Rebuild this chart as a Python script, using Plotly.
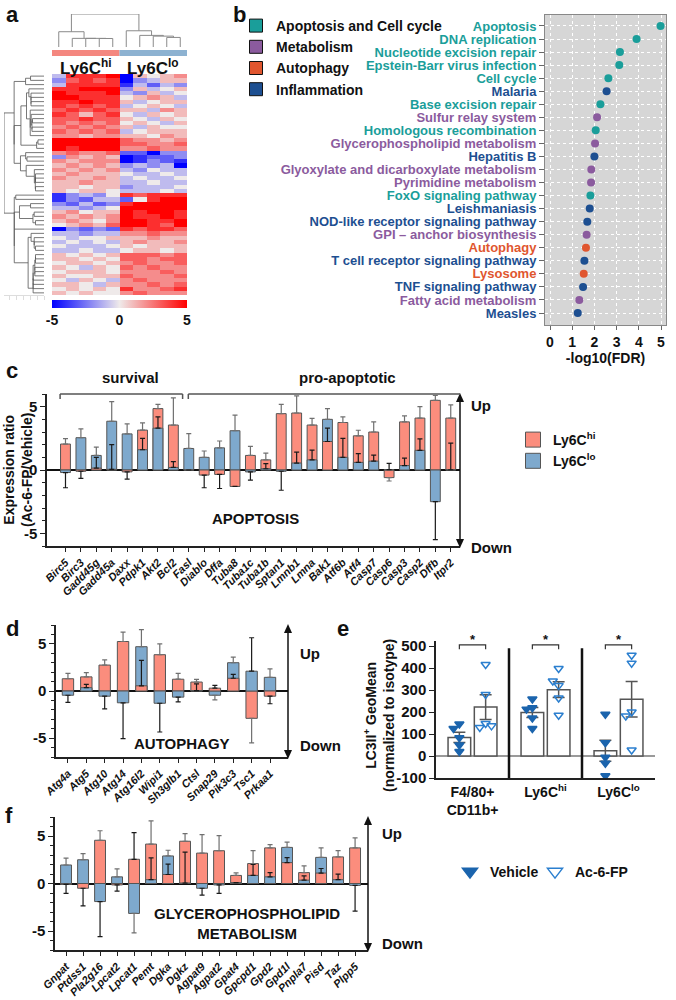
import numpy as np
import plotly.graph_objects as go

W, H = 676, 1000
FONT = "Liberation Sans, Arial, sans-serif"
INK = "#111111"
PINK = "#fb8d7d"
BLUE = "#7ea9cd"
EDGE = "#555555"

# ---- a: expression heatmap (rows top to bottom; 5 Ly6Chi then 5 Ly6Clo samples)
HEAT_GROUPS = ["Ly6C<sup>hi</sup>", "Ly6C<sup>lo</sup>"]
HEAT_GROUP_SIZE = [5, 5]
HEAT_ROWS = [
    [-1, 4, 4, 4, 5, -5, 1, 0, 1, 2],
    [-2, 3, 4, 3, 4, -5, -2, -1, 1, 1],
    [-1, 4, 4, 4, 4, -4, -1, -3, -1, -2],
    [4, 4, 5, 5, 5, -2, 1, -1, 0, 1],
    [5, 4, 4, 4, 5, -1, -2, 1, -1, 0],
    [5, 5, 4, 4, 4, 0, 1, 2, 1, -1],
    [4, 4, 5, 4, 4, 1, -1, 0, 1, 1],
    [4, 3, 4, 3, 4, -1, 0, 1, 0, -1],
    [3, 4, 3, 4, 3, 1, 1, -1, 2, 1],
    [4, 3, 1, 3, 4, 0, -1, 1, 0, 1],
    [3, 3, 4, 3, 3, 1, 0, -1, 1, 0],
    [3, 2, 3, 2, 3, 0, 1, 0, -1, 1],
    [2, 3, 2, 3, 2, 1, -1, 1, 0, 0],
    [3, 2, 3, 2, 3, -1, 0, 1, 1, 1],
    [2, 2, 1, 2, 2, 1, 1, 0, 2, 1],
    [5, 5, 5, 5, 5, 3, 2, 2, 1, 2],
    [5, 5, 5, 5, 5, 3, 3, 2, 2, 3],
    [5, 4, 5, 5, 5, 2, 2, 3, 2, 2],
    [2, 3, 2, 2, 3, -3, -3, -5, -2, -2],
    [-2, 2, 1, 2, 1, -5, -4, -3, -3, -2],
    [2, 1, 2, 2, 2, -5, -4, -2, -3, -4],
    [1, 2, 1, 2, 1, -2, -1, -2, -1, -5],
    [2, 1, 2, 1, 2, -1, -2, 0, -1, -1],
    [1, 2, 1, 1, 1, 0, -1, -1, 0, -1],
    [2, 1, 1, 2, 1, -1, 0, -1, -1, 0],
    [1, 1, 2, 1, 1, -1, -1, 0, -1, -1],
    [1, 1, 0, 1, 1, -2, -1, -1, -1, 0],
    [1, 0, 1, 1, 0, -1, -1, -1, 0, -1],
    [-4, -2, -1, -2, 0, 4, 3, 4, 4, 4],
    [-4, -2, -3, -1, -1, -3, 0, 4, 5, 5],
    [-2, -3, -1, -3, -2, 4, 5, 5, 5, 5],
    [-1, -1, -2, -1, 0, 5, 5, 5, 5, 5],
    [1, 2, 0, 1, 1, 5, 4, 5, 5, 4],
    [2, 1, 2, 1, 2, 5, 4, 4, 5, 4],
    [1, 2, 1, 0, 2, 5, 5, 4, 4, 5],
    [0, 1, 2, 1, 3, 5, 5, 4, 3, 5],
    [-5, -2, -3, -2, -3, 4, 3, 4, 4, 3],
    [-1, -1, -2, -1, -1, 2, 2, 3, 2, 2],
    [0, -1, 0, 0, 1, 1, 1, 2, 1, 1],
    [-1, 0, -1, 0, -1, 1, 2, 1, 1, 2],
    [0, -1, -1, -1, 0, 1, 0, 1, 1, 1],
    [-1, -1, 0, -1, -1, 0, 1, 1, 0, 1],
    [1, 0, 1, 0, 1, 3, 3, 3, 2, 3],
    [1, 1, 0, 1, 0, 3, 3, 2, 3, 3],
    [0, 1, 1, 0, 1, 2, 3, 2, 2, 3],
    [1, 0, -1, 1, 0, 3, 2, 3, 2, 2],
    [0, 1, 1, 1, 0, 2, 2, 2, 3, 2],
    [1, 0, 0, 1, 1, 3, 2, 2, 2, 3],
    [0, -1, 1, 0, -1, 2, 3, 2, 2, 2],
    [1, 1, 0, -1, 1, 2, 2, 3, 2, 3],
    [0, 1, 0, 1, 0, 4, 2, 2, 3, 4],
    [1, 0, 1, 0, 0, 2, 3, 2, 2, 2],
]

# ---- b: KEGG enrichment
PATHWAYS = [
    "Apoptosis", "DNA replication", "Nucleotide excision repair",
    "Epstein-Barr virus infection", "Cell cycle", "Malaria", "Base excision repair",
    "Sulfur relay system", "Homologous recombination", "Glycerophospholipid metabolism",
    "Hepatitis B", "Glyoxylate and dicarboxylate metabolism", "Pyrimidine metabolism",
    "FoxO signaling pathway", "Leishmaniasis", "NOD-like receptor signaling pathway",
    "GPI – anchor biosynthesis", "Autophagy", "T cell receptor signaling pathway",
    "Lysosome", "TNF signaling pathway", "Fatty acid metabolism", "Measles",
]
PATHWAY_CLASS = ["apo", "apo", "apo", "apo", "apo", "inf", "apo", "met", "apo", "met", "inf", "met",
                 "met", "apo", "inf", "inf", "met", "aut", "inf", "aut", "inf", "met", "inf"]
NEG_LOG_FDR = [4.98, 3.9, 3.15, 3.12, 2.63, 2.55, 2.27, 2.12, 2.06, 2.03, 2.0, 1.86,
               1.85, 1.82, 1.79, 1.68, 1.65, 1.62, 1.55, 1.52, 1.49, 1.32, 1.25]
CLASS_NAMES = {"apo": "Apoptosis and Cell cycle", "met": "Metabolism",
               "aut": "Autophagy", "inf": "Inflammation"}
CLASS_COLORS = {"apo": "#1a9e9a", "met": "#8b5b9e", "aut": "#e0562f", "inf": "#1d4f91"}

# ---- c: apoptosis genes, expression ratio (mean, error)
APOP_GENES = ["Birc5", "Birc3", "Gadd45g", "Gadd45a", "Daxx", "Pdpk1", "Akt2", "Bcl2", "Fasl",
              "Diablo", "Dffa", "Tuba8", "Tuba1c", "Tuba1b", "Sptan1", "Lmnb1", "Lmna", "Bak1",
              "Atf6b", "Atf4", "Casp7", "Casp6", "Casp3", "Casp2", "Dffb", "Itpr2"]
APOP_HI = [2.05, -0.1, 0.15, 0.05, -0.15, 3.15, 4.85, 3.55, 0.0, -0.4, -0.35, -1.3, 1.15,
           0.8, 4.45, 4.5, 3.55, 2.25, 3.75, 2.7, 3.0, -0.6, 3.8, 4.1, 5.5, 4.1]
APOP_HI_ERR = [0.42, 0.56, 0.85, 1.95, 0.57, 0.57, 0.33, 2.15, 0.0, 1.0, 1.11, 0.0, 0.71,
               0.53, 0.73, 1.35, 0.53, 1.05, 0.45, 0.44, 0.8, 0.27, 0.48, 0.9, 0.38, 1.04]
APOP_LO = [-0.2, 2.55, 1.15, 3.85, 2.85, 1.6, 3.3, 0.2, 1.7, 1.0, 1.75, 3.1, -0.15,
           0.1, -0.1, 0.55, 0.8, 4.0, 1.0, 0.6, 0.7, 0.03, 0.35, 1.55, -2.5, 0.02]
APOP_LO_ERR = [1.2, 0.69, 0.65, 1.55, 0.79, 0.9, 0.9, 0.46, 1.17, 0.5, 0.54, 1.23, 0.65,
               0.4, 1.5, 0.86, 0.77, 0.84, 1.5, 0.7, 0.47, 0.5, 0.58, 0.9, 3.0, 2.1]

# ---- d: autophagy genes
AUTO_GENES = ["Atg4a", "Atg5", "Atg10", "Atg14", "Atg16l2", "Wipi1", "Sh3glb1", "Ctsl",
              "Snap29", "Pik3c3", "Tsc1", "Prkaa1"]
AUTO_HI = [1.3, 1.5, 2.75, 5.25, 0.55, 3.85, 1.25, 0.95, 0.3, 1.35, -2.9, -0.55]
AUTO_HI_ERR = [0.57, 0.44, 0.55, 1.0, 2.7, 1.15, 0.62, 0.28, 0.3, 0.42, 2.6, 0.8]
AUTO_LO = [-0.45, 0.35, -0.55, -1.25, 4.7, -1.3, -0.65, 0.05, -0.45, 3.0, 2.1, 1.45]
AUTO_LO_ERR = [0.75, 0.35, 1.35, 3.8, 1.8, 3.05, 0.5, 0.7, 0.5, 0.6, 3.55, 0.9]

# ---- e: LC3II+ GeoMean, individual animals
E_GROUPS = ["F4/80+<br>CD11b+", "Ly6C<sup>hi</sup>", "Ly6C<sup>lo</sup>"]
E_VEHICLE = [[145, 125, 83, 50, 20], [259, 219, 213, 173, 125], [190, 60, -6, -33, -90]]
E_AC6FP = [[416, 280, 148, 130, 137], [398, 320, 341, 264, 185], [458, 422, 200, 182, 27]]

# ---- f: glycerophospholipid metabolism genes
GPL_GENES = ["Gnpat", "Ptdss1", "Pla2g16", "Lpcat2", "Lpcat1", "Pemt", "Dgka", "Dgkz",
             "Agpat9", "Agpat2", "Gpat4", "Gpcpd1", "Gpd2", "Gpd1l", "Pnpla7", "Pisd",
             "Taz", "Plpp5"]
GPL_HI = [-0.1, -0.5, 4.55, -0.15, 2.55, 4.15, 0.95, 4.45, 3.2, 3.45, 0.85, 2.1, 3.75,
          2.2, 1.15, 1.1, 2.8, 3.75]
GPL_HI_ERR = [0.95, 1.85, 1.0, 0.65, 2.8, 2.45, 1.1, 0.8, 1.95, 1.58, 0.27, 1.36, 0.35,
              0.53, 0.7, 0.48, 0.66, 1.05]
GPL_LO = [1.95, 2.5, -1.9, 0.7, -3.15, 0.4, 2.9, 0.05, -0.5, -0.15, 0.1, 0.85, 0.7,
          3.8, 0.35, 2.75, 0.4, -0.2]
GPL_LO_ERR = [0.73, 0.65, 3.7, 0.84, 2.05, 2.3, 0.6, 3.25, 0.72, 0.9, 0.0, 1.15, 0.45,
              0.55, 0.45, 1.0, 0.58, 2.7]


def fx(px):
    return px / W


def fy(py):
    return 1 - py / H


def ordered_tree(profiles):
    # average-linkage clustering that keeps leaf order (only neighbours merge)
    p = np.asarray(profiles, dtype=float)
    dist = np.sqrt(((p[:, None, :] - p[None, :, :]) ** 2).sum(-1))
    nodes = [([i], float(i), 0.0) for i in range(len(p))]
    pos, hgt = [], []
    while len(nodes) > 1:
        link = [dist[np.ix_(a[0], b[0])].mean() for a, b in zip(nodes[:-1], nodes[1:])]
        k = int(np.argmin(link))
        (ma, pa, ha), (mb, pb, hb) = nodes[k], nodes[k + 1]
        h = max(link[k], ha, hb)
        pos += [pa, pa, pb, pb, None]
        hgt += [ha, h, h, hb, None]
        nodes[k:k + 2] = [(ma + mb, (pa + pb) / 2, h)]
    return pos, hgt, nodes[0][2]


def one_sided(vals, errs):
    up = [e if v >= 0 else 0 for v, e in zip(vals, errs)]
    down = [e if v < 0 else 0 for v, e in zip(vals, errs)]
    return up, down


def swarm(vals, step=0.08, gap=25):
    placed, offs = [], []
    for v in vals:
        for o in (0, -step, step, -2 * step, 2 * step):
            if all(abs(v - pv) >= gap or po != o for pv, po in placed):
                break
        placed.append((v, o))
        offs.append(o)
    return offs


fig = go.Figure()
layout = {}
shapes = []
ann = []


def text(x, y, s, size=14, anchor="center", yanchor="middle", color=INK, angle=0, **kw):
    ann.append(dict(x=x, y=y, text=s, showarrow=False, xanchor=anchor, yanchor=yanchor,
                    textangle=angle, font=dict(size=size, color=color, weight="bold"),
                    **({"xref": "paper", "yref": "paper"} | kw)))


def updown_arrow(xp, top, bottom, head=9, half=4):
    shapes.append(dict(type="line", xref="paper", yref="paper", x0=fx(xp), x1=fx(xp),
                       y0=fy(top + head - 1), y1=fy(bottom - head + 1),
                       line=dict(color=INK, width=1.5)))
    for tip, base in ((top, top + head), (bottom, bottom - head)):
        shapes.append(dict(type="path", xref="paper", yref="paper", fillcolor=INK,
                           line=dict(width=0),
                           path=f"M{fx(xp - half)},{fy(base)} L{fx(xp)},{fy(tip)} "
                                f"L{fx(xp + half)},{fy(base)} Z"))


# ================= a =================
z = np.asarray(HEAT_ROWS, dtype=float)
n_rows, n_cols = z.shape
fig.add_trace(go.Heatmap(
    z=z, x=list(range(n_cols)), y=list(range(n_rows)), zmin=-5, zmax=5,
    colorscale=[[0, "#0000ff"], [0.5, "#efeaea"], [1, "#ff0000"]],
    xaxis="x", yaxis="y", hoverinfo="skip",
    colorbar=dict(orientation="h", x=fx(119.5), xanchor="center", y=fy(300), yanchor="top",
                  len=135 / W, thickness=8, outlinewidth=0, xpad=0, ypad=0,
                  tickvals=[-5, 0, 5], ticktext=["-5", "0", "5"], ticks="",
                  tickfont=dict(size=14, weight="bold", color=INK)),
))
cpos, chgt, croot = ordered_tree(z.T)
fig.add_trace(go.Scatter(x=cpos, y=chgt, mode="lines", line=dict(color="#8a8a8a", width=1),
                         xaxis="x2", yaxis="y2", hoverinfo="skip", showlegend=False))
rpos, rhgt, rroot = ordered_tree(z)
fig.add_trace(go.Scatter(x=rhgt, y=rpos, mode="lines", line=dict(color="#555555", width=0.8),
                         xaxis="x3", yaxis="y3", hoverinfo="skip", showlegend=False))

heat_x = [fx(52), fx(187)]
heat_y = [fy(295), fy(74)]
hidden = dict(visible=False, showgrid=False, zeroline=False, automargin=False)
layout["xaxis"] = dict(domain=heat_x, range=[-0.5, n_cols - 0.5], anchor="y", **hidden)
layout["yaxis"] = dict(domain=heat_y, range=[n_rows - 0.5, -0.5], anchor="x", **hidden)
layout["xaxis2"] = dict(domain=heat_x, range=[-0.5, n_cols - 0.5], anchor="y2", **hidden)
layout["yaxis2"] = dict(domain=[fy(47), fy(14)], range=[0, croot], anchor="x2", **hidden)
layout["xaxis3"] = dict(domain=[fx(4), fx(44)], range=[rroot, 0], anchor="y3", showgrid=False,
                        zeroline=False, showline=True, linecolor="#dddddd", ticks="outside",
                        ticklen=4, tickcolor="#dddddd", showticklabels=False, nticks=8,
                        automargin=False)
layout["yaxis3"] = dict(domain=heat_y, range=[n_rows - 0.5, -0.5], anchor="x3", **hidden)

start = 0
for name, size, col in zip(HEAT_GROUPS, HEAT_GROUP_SIZE, ["#f4877f", "#8db2d1"]):
    shapes.append(dict(type="rect", xref="x", yref="paper", x0=start - 0.5, x1=start + size - 0.5,
                       y0=fy(56), y1=fy(50), fillcolor=col, line=dict(width=0)))
    text(start + (size - 1) / 2, fy(67), name, size=17, xref="x")
    start += size

# ================= b =================
fig.add_trace(go.Scatter(
    x=NEG_LOG_FDR, y=list(range(len(PATHWAYS))), mode="markers",
    marker=dict(size=8, color=[CLASS_COLORS[c] for c in PATHWAY_CLASS]),
    xaxis="x4", yaxis="y4", hoverinfo="skip", showlegend=False))
for key, label in CLASS_NAMES.items():
    fig.add_trace(go.Scatter(
        x=[None], y=[None], mode="markers", name=label, legend="legend2",
        marker=dict(symbol="square", size=13, color=CLASS_COLORS[key], line=dict(color=INK, width=1)),
        xaxis="x4", yaxis="y4"))
shapes.append(dict(type="rect", xref="x4 domain", yref="y4 domain", x0=0, x1=1, y0=0, y1=1,
                   fillcolor="#d6d6d6", line=dict(width=0), layer="below"))
layout["xaxis4"] = dict(
    domain=[fx(545), fx(666)], range=[-0.225, 5.225], anchor="y4", tickvals=list(range(6)),
    ticks="outside", ticklen=4, tickcolor="#666", showline=True, mirror=True, linecolor="#888",
    showgrid=True, gridcolor="white", griddash="dot", gridwidth=1, zeroline=False,
    automargin=False, tickfont=dict(size=14, weight="bold", color=INK),
    title=dict(text="-log10(FDR)", font=dict(size=14, weight="bold", color=INK), standoff=2))
layout["yaxis4"] = dict(
    domain=[fy(325), fy(15)], range=[len(PATHWAYS) - 0.08, -0.84], anchor="x4",
    tickvals=list(range(len(PATHWAYS))),
    ticktext=[f'<span style="color:{CLASS_COLORS[c]}">{p}</span>' for p, c in zip(PATHWAYS, PATHWAY_CLASS)],
    ticks="outside", ticklen=5, tickcolor="#666", showline=True, mirror=True, linecolor="#888",
    showgrid=True, gridcolor="white", griddash="dot", zeroline=False, automargin=False,
    tickfont=dict(size=13, weight="bold"))


# ================= c, d, f =================
def ratio_panel(n, genes, hi, hi_err, lo, lo_err, box, xr, yr, bar_w):
    back, front = [], []
    for h, he, l, le in zip(hi, hi_err, lo, lo_err):
        if abs(h) >= abs(l):
            back.append((h, he, PINK)); front.append((l, le, BLUE))
        else:
            back.append((l, le, BLUE)); front.append((h, he, PINK))
    for layer, ecol in ((back, "#707070"), (front, "#1a1a1a")):
        vals = [v for v, _, _ in layer]
        up, down = one_sided(vals, [e for _, e, _ in layer])
        fig.add_trace(go.Bar(
            x=genes, y=vals, width=bar_w, xaxis=f"x{n}", yaxis=f"y{n}", showlegend=False,
            marker=dict(color=[c for _, _, c in layer], line=dict(color=EDGE, width=1)),
            error_y=dict(type="data", symmetric=False, array=up, arrayminus=down,
                         color=ecol, thickness=1.2, width=2.5),
            hoverinfo="skip"))
    x0, x1, y0, y1 = box
    layout[f"xaxis{n}"] = dict(
        domain=[fx(x0), fx(x1)], range=xr, anchor=f"y{n}", type="category", tickangle=-45,
        tickfont=dict(size=11, weight="bold", style="italic", color=INK), ticks="outside",
        ticklen=4, tickcolor="#222", showline=True, linecolor="#222", linewidth=1.5,
        showgrid=False, zeroline=False, automargin=False)
    layout[f"yaxis{n}"] = dict(
        domain=[fy(y1), fy(y0)], range=yr, anchor=f"x{n}", tickmode="array",
        tickvals=[-5, 0, 5], ticktext=["-5", "0", "5"], ticks="outside", ticklen=5,
        tickcolor="#222", minor=dict(tickmode="linear", tick0=0, dtick=1, ticks="outside",
                                     ticklen=3, tickcolor="#222"),
        showline=True, linecolor="#222", linewidth=1.5, showgrid=False, automargin=False,
        zeroline=True, zerolinecolor="#111", zerolinewidth=2,
        tickfont=dict(size=15, weight="bold", color=INK))
    updown_arrow(x1, y0 - 1, y1 + 2)


ratio_panel(5, APOP_GENES, APOP_HI, APOP_HI_ERR, APOP_LO, APOP_LO_ERR,
            (47, 460, 394, 546), [-1.2, 25.6], [-6, 6], 0.64)
ratio_panel(6, AUTO_GENES, AUTO_HI, AUTO_HI_ERR, AUTO_LO, AUTO_LO_ERR,
            (56, 288, 625, 757), [-0.65, 11.98], [-7, 7], 0.62)
ratio_panel(8, GPL_GENES, GPL_HI, GPL_HI_ERR, GPL_LO, GPL_LO_ERR,
            (55, 368, 817, 950), [-0.65, 17.76], [-7, 7], 0.64)

for name, col in (("Ly6C<sup>hi</sup>", PINK), ("Ly6C<sup>lo</sup>", BLUE)):
    fig.add_trace(go.Scatter(x=[None], y=[None], mode="markers", name=name, legend="legend",
                             marker=dict(symbol="square", size=15, color=col,
                                         line=dict(color=EDGE, width=1)),
                             xaxis="x5", yaxis="y5"))

# c annotations
for x0, x1, label in ((-0.35, 7.6, "survival"), (7.97, 25.6, "pro-apoptotic")):
    shapes.append(dict(type="line", xref="x5", yref="paper", x0=x0, x1=x1, y0=fy(394), y1=fy(394),
                       line=dict(color="#555", width=1.5)))
    shapes.append(dict(type="line", xref="x5", yref="paper", x0=x0, x1=x0, y0=fy(394), y1=fy(399),
                       line=dict(color="#555", width=1.5)))
    if label == "survival":
        shapes.append(dict(type="line", xref="x5", yref="paper", x0=x1, x1=x1, y0=fy(394),
                           y1=fy(399), line=dict(color="#555", width=1.5)))
text(fx(130), fy(377), "survival", size=15)
text(fx(347), fy(377), "pro-apoptotic", size=15)
text(fx(255), fy(518), "APOPTOSIS", size=15)
text(fx(18), fy(470), "Expression ratio<br>(Ac-6-FP/Vehicle)", size=14, angle=-90)
text(fx(469), fy(405), "Up", size=15, anchor="left")
text(fx(469), fy(547), "Down", size=15, anchor="left")

text(fx(182), fy(743), "AUTOPHAGY", size=15)
text(fx(298), fy(653), "Up", size=15, anchor="left")
text(fx(298), fy(745), "Down", size=15, anchor="left")

text(fx(247), fy(923), "GLYCEROPHOSPHOLIPID<br>METABOLISM", size=15)
text(fx(380), fy(833), "Up", size=15, anchor="left")
text(fx(380), fy(943), "Down", size=15, anchor="left")

# ================= e =================
centers = np.arange(len(E_GROUPS)) + 0.5
for sets, shift, name, sym, col, leg in (
        (E_VEHICLE, -0.18, "Vehicle", "triangle-down", "#1b64ad", "legend3"),
        (E_AC6FP, 0.18, "Ac-6-FP", "triangle-down-open", "#2b7fcf", "legend4")):
    means = [float(np.mean(s)) for s in sets]
    sems = [float(np.std(s, ddof=1) / np.sqrt(len(s))) for s in sets]
    fig.add_trace(go.Bar(
        x=centers + shift, y=means, width=0.31, xaxis="x7", yaxis="y7", showlegend=False,
        marker=dict(color="white", line=dict(color=EDGE, width=1.5)),
        error_y=dict(type="data", array=sems, color="#555", thickness=1.5, width=6),
        hoverinfo="skip"))
    px_, py_ = [], []
    for c, s in zip(centers, sets):
        px_ += [c + shift + o for o in swarm(s)]
        py_ += list(s)
    fig.add_trace(go.Scatter(
        x=px_, y=py_, mode="markers", xaxis="x7", yaxis="y7", showlegend=False, hoverinfo="skip",
        marker=dict(symbol=sym, size=8, color=col, line=dict(color=col, width=1.5))))
    fig.add_trace(go.Scatter(
        x=[None], y=[None], mode="markers", name=name, legend=leg, xaxis="x7", yaxis="y7",
        marker=dict(symbol=sym, size=13, color=col, line=dict(color=col, width=1.5))))

for c in centers:
    a0, a1, yb = c - 0.18, c + 0.18, 505
    shapes.append(dict(type="path", xref="x7", yref="y7",
                       path=f"M{a0},{yb - 20} L{a0},{yb} L{a1},{yb} L{a1},{yb - 20}",
                       line=dict(color="#333", width=1.2)))
    ann.append(dict(x=c, y=yb, xref="x7", yref="y7", text="*", showarrow=False, yanchor="bottom",
                    yshift=-4, font=dict(size=13, weight="bold", color=INK)))
for sep in range(1, len(E_GROUPS)):
    shapes.append(dict(type="line", xref="x7", yref="y7", x0=sep, x1=sep, y0=-100, y1=490,
                       line=dict(color=INK, width=2.5)))
layout["xaxis7"] = dict(
    domain=[fx(436), fx(655)], range=[0, len(E_GROUPS)], anchor="y7", tickvals=list(centers),
    ticktext=E_GROUPS, ticks="", showline=True, linecolor="#222", linewidth=1.5, showgrid=False,
    zeroline=False, automargin=False, tickfont=dict(size=14, weight="bold", color=INK))
layout["yaxis7"] = dict(
    domain=[fy(778), fy(640.5)], range=[-100, 525], anchor="x7", tickmode="array",
    tickvals=list(range(-100, 501, 100)), ticktext=[str(v) for v in range(-100, 501, 100)],
    ticks="outside", ticklen=5, tickcolor="#222", showline=True, linecolor="#222", linewidth=1.5,
    showgrid=False, zeroline=True, zerolinecolor="#9a9a9a", zerolinewidth=1.5, automargin=False,
    tickfont=dict(size=15, weight="bold", color=INK))
text(fx(379), fy(716), "LC3II<sup>+</sup> GeoMean<br>(normalized to isotype)", size=14, angle=-90)

# ================= panel letters =================
for letter, x, y in (("a", 4, 14), ("b", 231, 14), ("c", 4, 370), ("d", 4, 628),
                     ("e", 335, 628), ("f", 3, 815)):
    text(fx(x), fy(y), letter, size=22, anchor="left")

legend_common = dict(bgcolor="rgba(0,0,0,0)", borderwidth=0, xanchor="left", yanchor="top",
                     font=dict(size=14, weight="bold", color=INK), itemclick=False, itemwidth=30)
fig.update_layout(
    width=W, height=H, margin=dict(l=0, r=0, t=0, b=0, autoexpand=False), autosize=False,
    paper_bgcolor="white", plot_bgcolor="white", barmode="overlay",
    font=dict(family=FONT, color=INK), shapes=shapes, annotations=ann,
    legend=legend_common | dict(x=fx(513), y=fy(424)),
    legend2=legend_common | dict(x=fx(236), y=fy(10)),
    legend3=legend_common | dict(x=fx(450), y=fy(856)),
    legend4=legend_common | dict(x=fx(535), y=fy(856)),
    **layout,
)

fig.write_html("out.html", config={"displayModeBar": False},
               post_script="document.body.style.margin='0';")
